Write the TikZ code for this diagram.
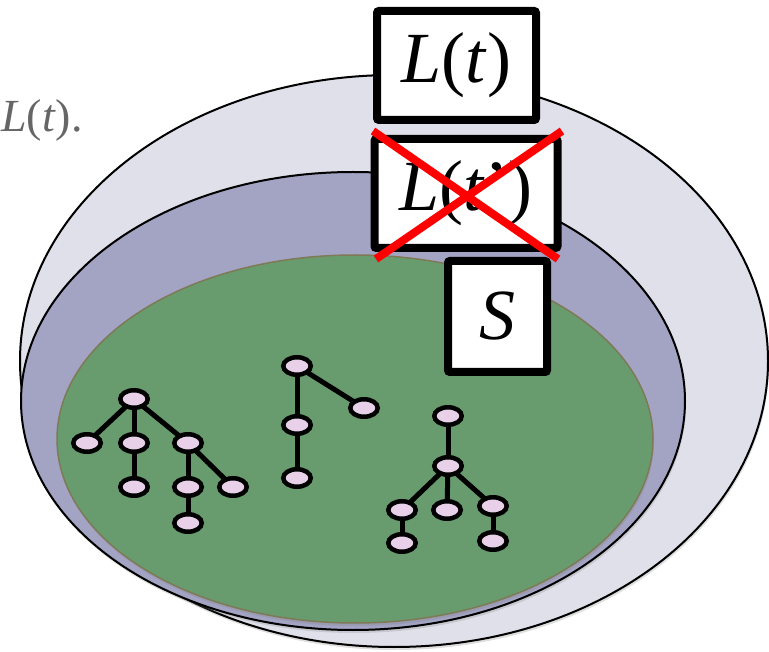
\documentclass[tikz,border=0pt]{standalone}
\usepackage{fontspec}
\setmainfont{Liberation Serif}
\newfontfamily\timesfont{Liberation Serif}
\usetikzlibrary{shadows,shapes.geometric}
\pgfdeclarelayer{setlayer}
\pgfdeclarelayer{edgelayer}
\pgfsetlayers{setlayer,edgelayer,main}
\definecolor{outerfill}{HTML}{E0E0EA}
\definecolor{midfill}{HTML}{A3A3C3}
\definecolor{greenfill}{HTML}{689C6F}
\definecolor{greenline}{HTML}{7D7A55}
\definecolor{treefill}{HTML}{E8D0E8}
\definecolor{graytext}{HTML}{666666}
\tikzset{
  setshadow/.style={drop shadow={shadow xshift=1pt, shadow yshift=-3pt, opacity=0.25}},
  tnode/.style={ellipse, draw=black, line width=4.5pt, fill=treefill, minimum width=27.5pt, minimum height=17.5pt, inner sep=0pt},
  tedge/.style={line width=5pt, black},
  labelbox/.style={rectangle, draw=black, fill=white, line width=8pt, rounded corners=2pt, inner sep=0pt},
  bigtext/.style={font=\timesfont\fontsize{72}{80}\selectfont},
  crossline/.style={red, line width=8pt}
}
\begin{document}
\begin{tikzpicture}[x=1pt,y=-1pt]
\useasboundingbox (0,0) rectangle (769,652);
% nested sets
\begin{pgfonlayer}{setlayer}
\draw[black, line width=2pt, fill=outerfill, setshadow] (394,361) ellipse [x radius=374, y radius=286];
\draw[black, line width=2pt, fill=midfill, setshadow] (353,401) ellipse [x radius=332, y radius=229];
\draw[greenline, line width=1.5pt, fill=greenfill, setshadow] (355,439) ellipse [x radius=298, y radius=184];
\end{pgfonlayer}
% tree nodes
\node[tnode] (a0) at (134,399) {};
\node[tnode] (a1) at (87,443) {};
\node[tnode] (a2) at (134,443) {};
\node[tnode] (a3) at (188,443) {};
\node[tnode] (a4) at (134,487) {};
\node[tnode] (a5) at (188,487) {};
\node[tnode] (a6) at (233,487) {};
\node[tnode] (a7) at (188,523) {};
\node[tnode] (b0) at (297,366) {};
\node[tnode] (b1) at (364,408) {};
\node[tnode] (b2) at (297,425) {};
\node[tnode] (b3) at (297,478) {};
\node[tnode] (c0) at (448,416) {};
\node[tnode] (c1) at (448,466) {};
\node[tnode] (c2) at (402,510) {};
\node[tnode] (c3) at (447,510) {};
\node[tnode] (c4) at (493,506) {};
\node[tnode] (c5) at (402,543) {};
\node[tnode] (c6) at (493,541) {};
\begin{pgfonlayer}{edgelayer}
\draw[tedge] (a0.center) -- (a1.center);
\draw[tedge] (a0.center) -- (a2.center);
\draw[tedge] (a0.center) -- (a3.center);
\draw[tedge] (a2.center) -- (a4.center);
\draw[tedge] (a3.center) -- (a5.center);
\draw[tedge] (a3.center) -- (a6.center);
\draw[tedge] (a5.center) -- (a7.center);
\draw[tedge] (b0.center) -- (b1.center);
\draw[tedge] (b0.center) -- (b2.center);
\draw[tedge] (b2.center) -- (b3.center);
\draw[tedge] (c0.center) -- (c1.center);
\draw[tedge] (c1.center) -- (c2.center);
\draw[tedge] (c1.center) -- (c3.center);
\draw[tedge] (c1.center) -- (c4.center);
\draw[tedge] (c2.center) -- (c5.center);
\draw[tedge] (c4.center) -- (c6.center);
\end{pgfonlayer}
% boxes
\node[labelbox, minimum width=159pt, minimum height=109pt, bigtext] (lt) at (456.5,65.5) {\textit{L}(\textit{t})};
\node[labelbox, minimum width=183pt, minimum height=109pt, bigtext] (ltp) at (466,193.5) {\textit{L}(\textit{t}’)};
\node[labelbox, minimum width=99pt, minimum height=111pt, bigtext] (s) at (497.5,316.5) {\textit{S}};
% cross
\coordinate (x1) at (373,131);
\coordinate (x2) at (558,259);
\coordinate (x3) at (562,131);
\coordinate (x4) at (376,259);
\draw[crossline] (x1) -- (x2);
\draw[crossline] (x3) -- (x4);
% side text
\node[anchor=base west, inner sep=0pt, text=graytext, font=\timesfont\fontsize{46}{52}\selectfont] (side) at (1,132) {\textit{L}(\textit{t}).};
\end{tikzpicture}
\end{document}
